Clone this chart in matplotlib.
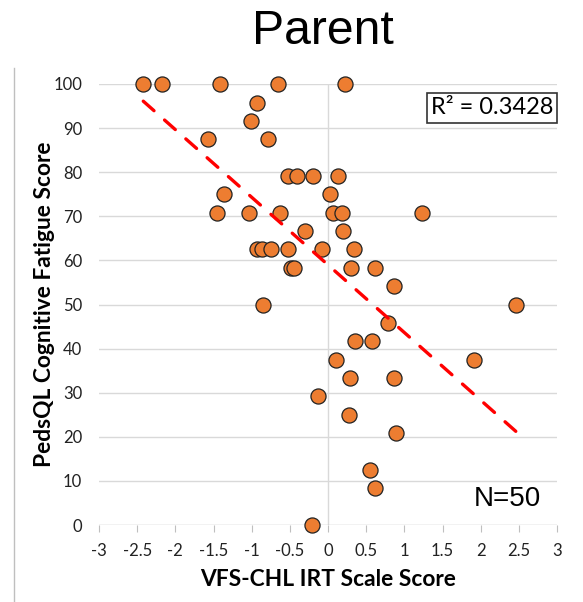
from matplotlib import pyplot as plt
from matplotlib.lines import Line2D
import numpy as np

# VFS-CHL IRT scale score vs PedsQL cognitive fatigue (parent report)
irt_score = [-2.42, -2.17, -1.42, -0.65, 0.22,
             -0.93, -1.01, -1.57, -0.78,
             -0.53, -0.40, -0.19, 0.135,
             -1.36, 0.03,
             -1.45, -1.03, -0.63, 0.07, 0.18, 1.23,
             -0.30, 0.20,
             -0.93, -0.87, -0.75, -0.52, -0.08, 0.34,
             -0.485, -0.44, 0.30, 0.62,
             0.87,
             -0.85, 2.46,
             0.78,
             0.35, 0.58,
             0.10, 1.91,
             0.29, 0.86,
             -0.135,
             0.28,
             0.89,
             0.555,
             0.62,
             -0.21]
fatigue = [100, 100, 100, 100, 100,
           95.8, 91.7, 87.5, 87.5,
           79.2, 79.2, 79.2, 79.2,
           75, 75,
           70.8, 70.8, 70.8, 70.8, 70.8, 70.8,
           66.7, 66.7,
           62.5, 62.5, 62.5, 62.5, 62.5, 62.5,
           58.3, 58.3, 58.3, 58.3,
           54.2,
           50, 50,
           45.8,
           41.7, 41.7,
           37.5, 37.5,
           33.3, 33.3,
           29.2,
           25,
           20.8,
           12.5,
           8.3,
           0]
x_ticks = [-3, -2.5, -2, -1.5, -1, -0.5, 0, 0.5, 1, 1.5, 2, 2.5, 3]
y_ticks = [0, 10, 20, 30, 40, 50, 60, 70, 80, 90, 100]

x = np.array(irt_score)
y = np.array(fatigue)
slope, icpt = np.polyfit(x, y, 1)
fit_x = np.array([x.min(), x.max()])
fit_y = icpt + slope*fit_x

fig = plt.figure(figsize=(5.83, 6.02), dpi=100)
ax = fig.add_axes([99/583, 1-525/602, 458/583, 441/602])

for yt in y_ticks[1:]:
    ax.axhline(yt, color='#d9d9d9', lw=1.0, zorder=0)
ax.axvline(0, color='#d9d9d9', lw=1.0, zorder=0)
ax.axhline(0, color='#bfbfbf', lw=1.0, zorder=0)

ax.set_xlim(-3, 3)
ax.set_ylim(0, 100)

ax.scatter(x, y, s=118, color='#ed7d31', edgecolors='#222222', linewidths=0.9,
           zorder=3, clip_on=False)

# fit the dash pattern so the trend line starts and ends on a dash
lw = 2.4
dash = 4.3
p0, p1 = ax.transData.transform(np.column_stack([fit_x, fit_y]))
L = np.hypot(*(p1 - p0)) * 72 / fig.dpi / lw
n = max(1, round((L - dash) / 8.3))
gap = (L - dash) / n - dash
ax.plot(fit_x, fit_y, color='#ff0000', lw=lw, ls=(0, (dash, gap)),
        zorder=4, dash_capstyle='round')

ax.set_xticks(x_ticks)
ax.set_xticklabels([('%g' % v) for v in x_ticks])
ax.set_yticks(y_ticks)
for s in ax.spines.values():
    s.set_visible(False)
ax.tick_params(axis='x', direction='out', length=5, color='#bfbfbf', pad=8,
               labelsize=12, labelcolor='#222222')
ax.tick_params(axis='y', length=0, pad=12, labelsize=12, labelcolor='#222222')
for lab in ax.get_xticklabels() + ax.get_yticklabels():
    lab.set_family('Lato')

ax.set_xlabel('VFS-CHL IRT Scale Score', family='Lato', fontweight='bold',
              fontsize=16.4, labelpad=7)
ax.set_ylabel('PedsQL Cognitive Fatigue Score', family='Lato', fontweight='bold',
              fontsize=16.4, labelpad=-1)

ax.text(0.9913, 0.9456, 'R² = 0.3428', transform=ax.transAxes, ha='right', va='center',
        family='Lato', fontsize=17,
        bbox=dict(boxstyle='square,pad=0.17', fc='white', ec='#333333', lw=1.2))
ax.text(0.965, 0.06, 'N=50', transform=ax.transAxes, ha='right', va='center',
        family='Liberation Sans', fontsize=20)

fig.text(322.5/583, 1-44/602, 'Parent', ha='center', va='baseline',
         family='Liberation Sans', fontsize=34.7)
fig.add_artist(Line2D([14/583, 14/583], [0, 1-68/602], color='#bfbfbf', lw=1))

plt.savefig('out.png', dpi=100)
